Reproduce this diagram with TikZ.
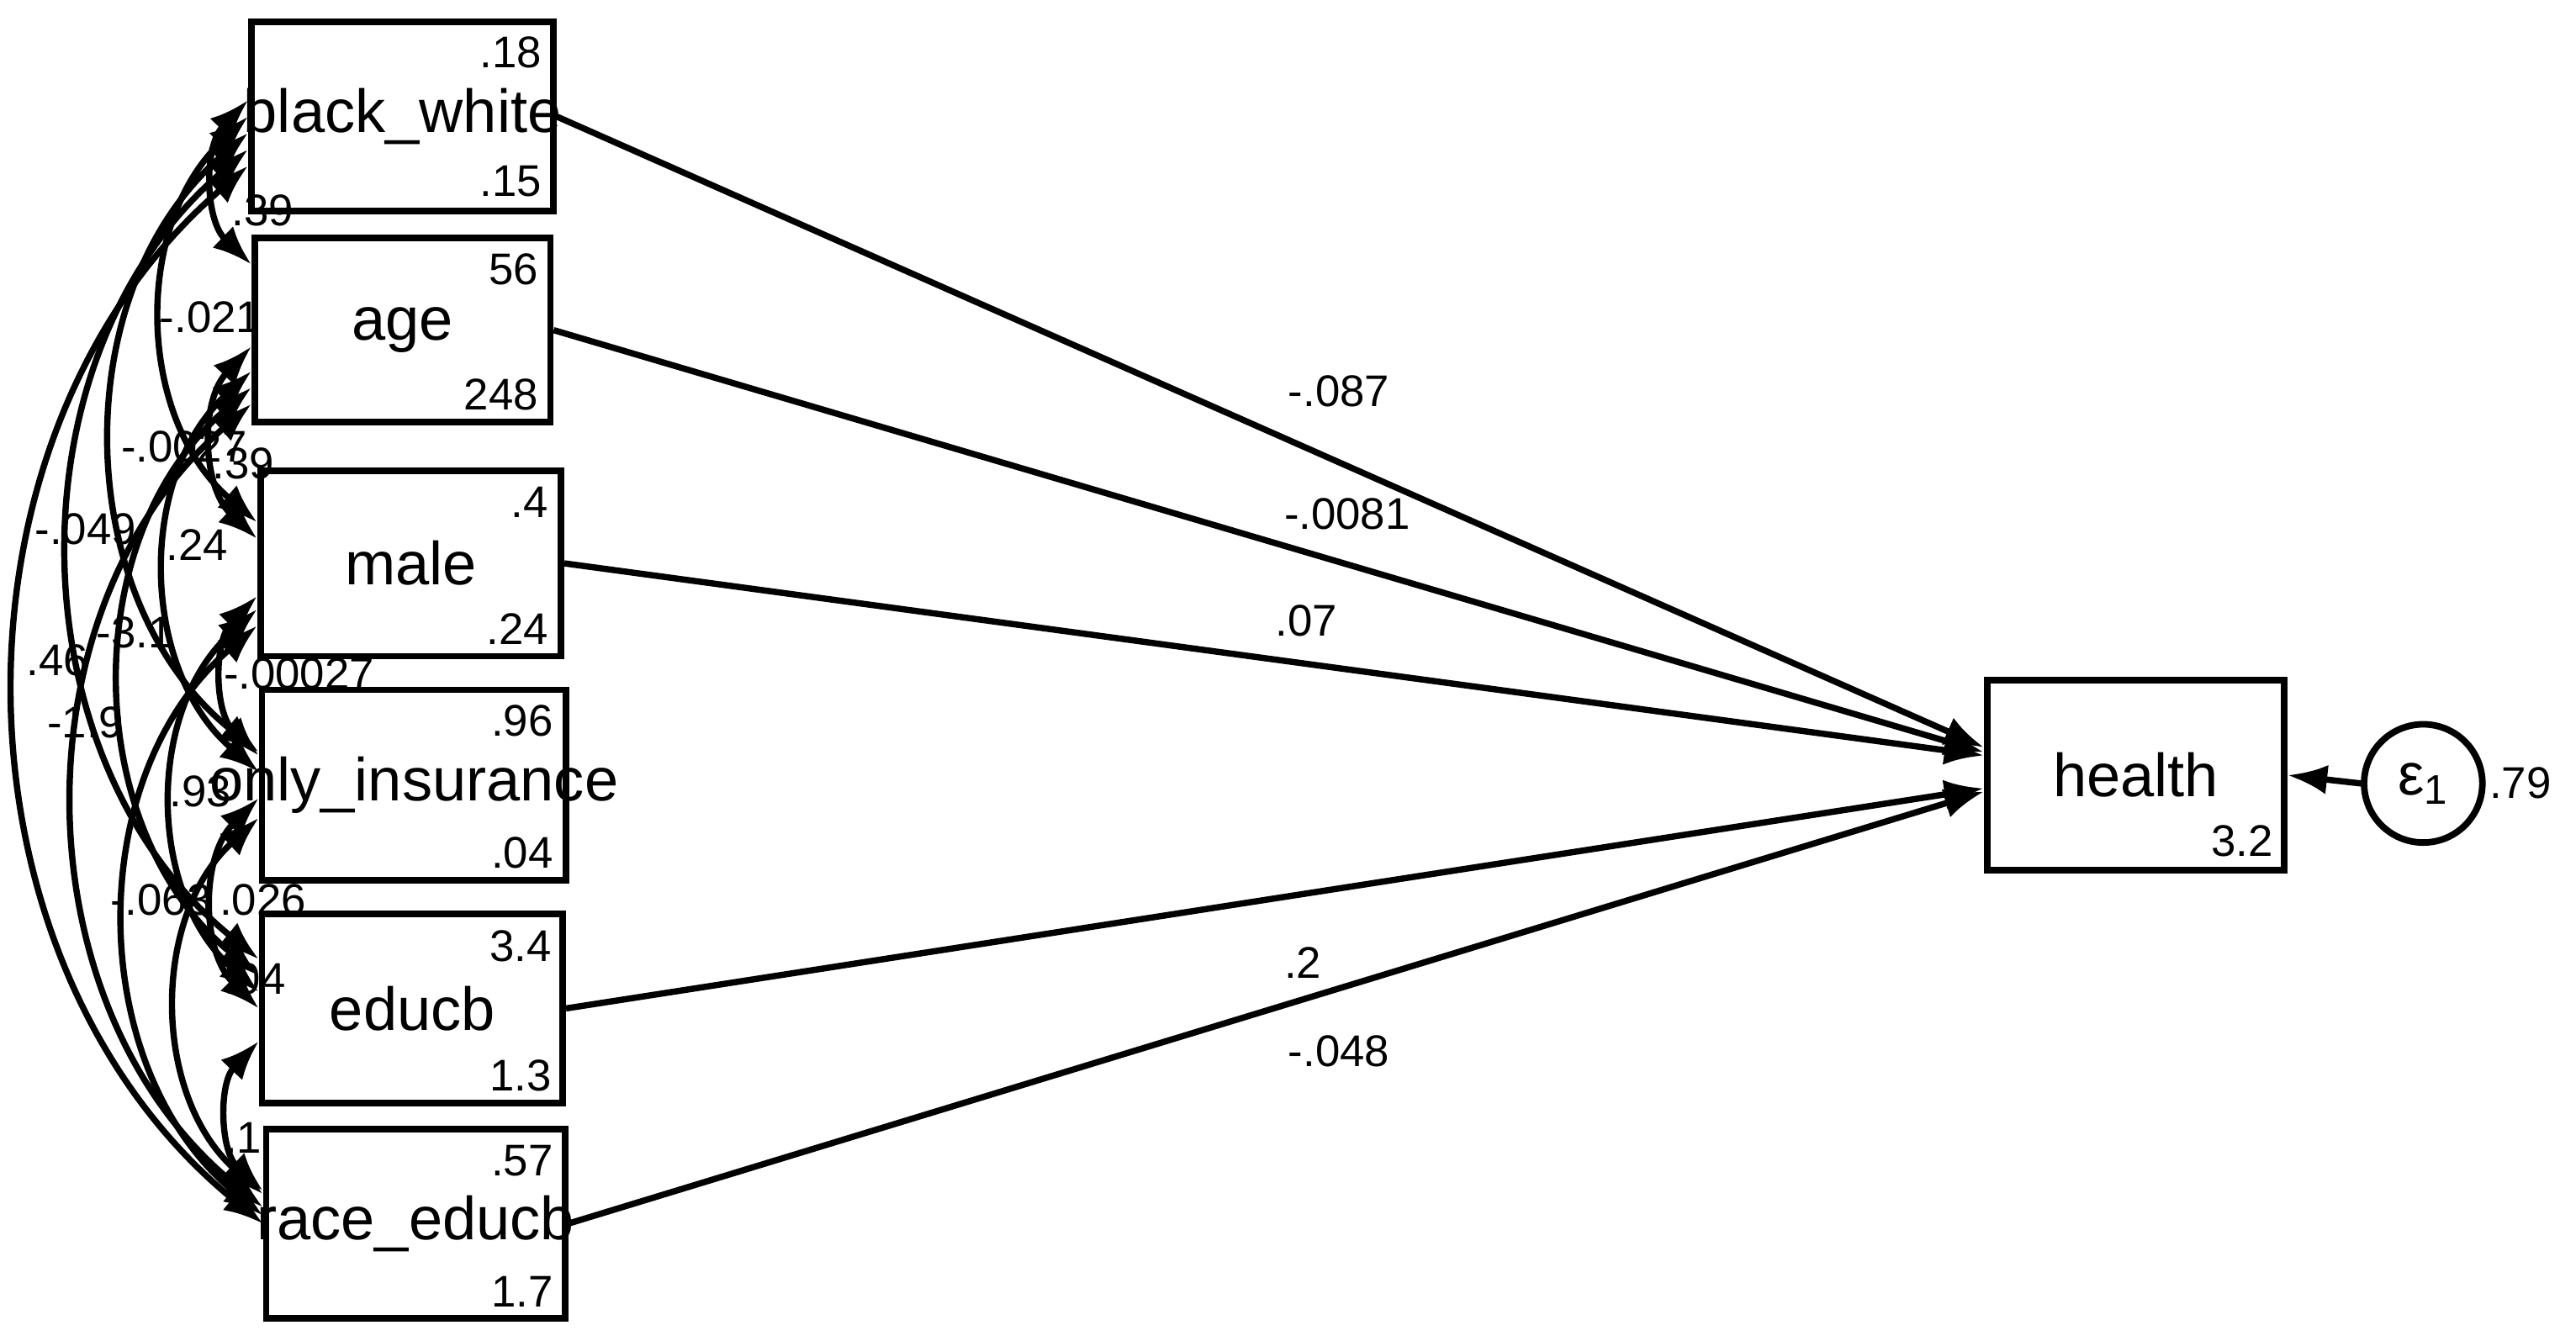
\documentclass[tikz,border=0pt]{standalone}
\usepackage{fontspec}
\setmainfont{Liberation Sans}
\usetikzlibrary{arrows.meta,calc}
\tikzset{
  var/.style={draw,line width=2pt,inner sep=0pt,font=\fontsize{18.5}{20}\selectfont},
  num/.style={font=\fontsize{13.5}{15}\selectfont,inner sep=0pt},
  path/.style={line width=1.9pt,-{Latex[length=12pt,width=9pt]}},
  cov/.style={line width=1.9pt,{Latex[length=12pt,width=9pt]}-{Latex[length=12pt,width=9pt]}},
}
\newcommand{\covline}[5]{\draw[cov] ($(#1.west)+(0,#3)$) to[bend right=#5] ($(#2.west)+(0,#4)$);}
\newcommand{\zw}[1]{\makebox[0pt]{#1}}
\begin{document}
\begin{tikzpicture}[x=0.5pt,y=-0.5pt]
\useasboundingbox (0,0) rectangle (1568,816);
\node[var,minimum width=92pt,minimum height=57.5pt] (bw) at (245,71) {\zw{black\_white}};
\node[var,minimum width=90pt,minimum height=56pt] (age) at (245,201) {age};
\node[var,minimum width=91.5pt,minimum height=56.5pt] (male) at (250,343) {male};
\node[var,minimum width=92.5pt,minimum height=58pt] (ins) at (252,478) {\zw{only\_insurance}};
\node[var,minimum width=91.5pt,minimum height=57.5pt] (edu) at (251,614) {educb};
\node[var,minimum width=91pt,minimum height=57.5pt] (race) at (253,745) {\zw{race\_educb}};
\node[var,minimum width=90.5pt,minimum height=58pt] (health) at (1300,472) {health};
\node[draw,circle,line width=2pt,minimum size=36pt,inner sep=0pt,font=\fontsize{18}{20}\selectfont] (eps) at (1475,477) {ε\textsubscript{1}};
\node[num,anchor=west] (epsv) at (1515,477) {.79};
% means and variances
\node[num,anchor=north east] (m1) at (330,22) {.18};
\node[num,anchor=south east] (v1) at (330,120) {.15};
\node[num,anchor=north east] (m2) at (328,154) {56};
\node[num,anchor=south east] (v2) at (328,250) {248};
\node[num,anchor=north east] (m3) at (334,296) {.4};
\node[num,anchor=south east] (v3) at (334,393) {.24};
\node[num,anchor=north east] (m4) at (337,429) {.96};
\node[num,anchor=south east] (v4) at (337,529) {.04};
\node[num,anchor=north east] (m5) at (336,566) {3.4};
\node[num,anchor=south east] (v5) at (336,665) {1.3};
\node[num,anchor=north east] (m6) at (337,697) {.57};
\node[num,anchor=south east] (v6) at (337,796) {1.7};
\node[num,anchor=south east] (vh) at (1384,522) {3.2};
% paths
\draw[path] (bw.east) -- ($(health.west)+(0,-17)$);
\draw[path] (age.east) -- ($(health.west)+(0,-14)$);
\draw[path] (male.east) -- ($(health.west)+(0,-12)$);
\draw[path] (edu.east) -- ($(health.west)+(0,8)$);
\draw[path] (race.east) -- ($(health.west)+(0,10)$);
\draw[path] (eps.west) -- (health.east);
\node[num] (l1) at (815,238) {-.087};
\node[num] (l2) at (820,313) {-.0081};
\node[num] (l3) at (795,378) {.07};
\node[num] (l4) at (793,586) {.2};
\node[num] (l5) at (815,640) {-.048};
% covariances
\covline{bw}{age}{-10}{-40}{45}
\covline{bw}{male}{0}{-25}{48}
\covline{bw}{ins}{10}{-20}{50}
\covline{bw}{edu}{20}{-30}{50}
\covline{bw}{race}{30}{0}{50}
\covline{age}{male}{10}{-15}{45}
\covline{age}{ins}{25}{-8}{48}
\covline{age}{edu}{35}{-20}{50}
\covline{age}{race}{45}{-10}{50}
\covline{male}{ins}{20}{-18}{45}
\covline{male}{edu}{28}{-10}{48}
\covline{male}{race}{38}{-5}{50}
\covline{ins}{edu}{8}{0}{45}
\covline{ins}{race}{20}{-18}{48}
\covline{edu}{race}{20}{-20}{45}
\node[num] (c1) at (160,128) {.39};
\node[num] (c2) at (128,193) {-.021};
\node[num] (c3) at (112,272) {-.0027};
\node[num] (c4) at (148,282) {.39};
\node[num] (c5) at (52,322) {-.049};
\node[num] (c6) at (120,332) {.24};
\node[num] (c7) at (82,385) {-3.1};
\node[num] (c8) at (35,402) {.46};
\node[num] (c9) at (52,440) {-1.9};
\node[num] (c10) at (182,410) {-.00027};
\node[num] (c11) at (122,482) {.93};
\node[num] (c12) at (98,548) {-.063};
\node[num] (c13) at (160,548) {.026};
\node[num] (c14) at (155,596) {.04};
\node[num] (c15) at (148,693) {.1};
\end{tikzpicture}
\end{document}
